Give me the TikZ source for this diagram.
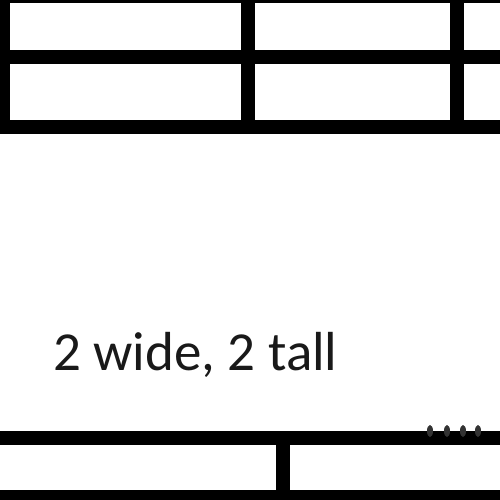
\documentclass[tikz,border=0pt]{standalone}
\usepackage{fontspec}
\setmainfont{Carlito}
\begin{document}
\begin{tikzpicture}[x=1pt,y=-1pt,
  rule/.style={line width=14pt,black},
  label/.style={font=\fontsize{55}{60}\selectfont,text=black!90,inner sep=0pt,anchor=base west}]
\useasboundingbox (0,0) rectangle (500,500);
\clip (0,0) rectangle (500,500);
\fill[white] (0,0) rectangle (500,500);
% upper table
\draw[rule] (-20,-4) -- (520,-4);
\draw[rule] (-20,57) -- (520,57);
\draw[rule] (-20,127) -- (520,127);
\draw[rule] (3,-20) -- (3,134);
\draw[rule] (247.5,-20) -- (247.5,134);
\draw[rule] (457,-20) -- (457,134);
% lower table
\draw[rule] (-20,438) -- (520,438);
\draw[rule] (-20,497) -- (520,497);
\draw[rule] (283,438) -- (283,520);
% cut-off marks above the lower table
\foreach \x in {430,447,463,478}
  \fill[black!80] (\x,431) ellipse (3pt and 6pt);
% caption
\node[label] (cap) at (53,370) {2 wide, 2 tall};
\end{tikzpicture}
\end{document}
